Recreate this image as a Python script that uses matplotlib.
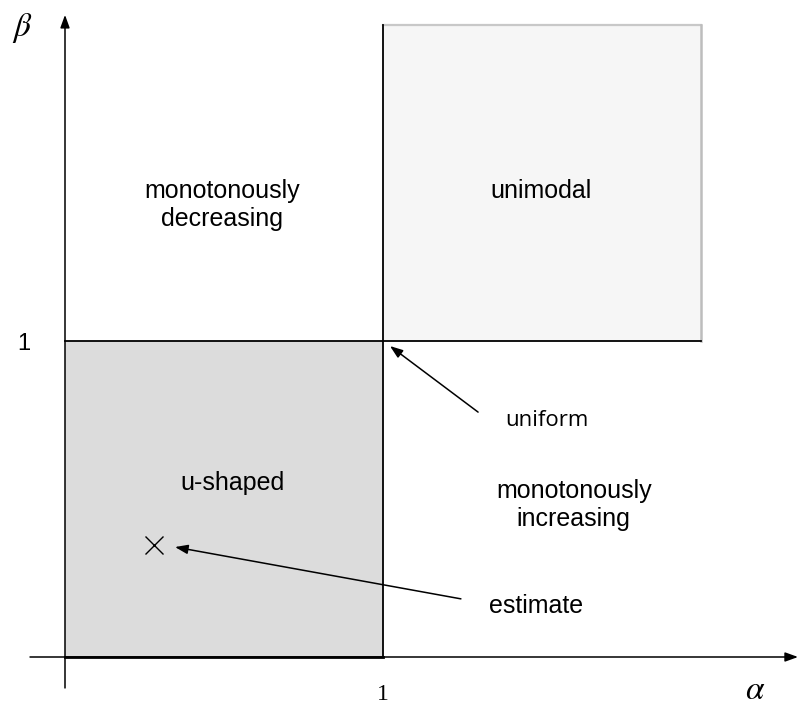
import matplotlib
matplotlib.use('Agg')
import matplotlib.pyplot as plt
from matplotlib.patches import Rectangle

plt.rcParams['mathtext.fontset'] = 'stix'

# Parameterraum der Beta-Verteilung: Grenzen der Regionen
limite = 1.0          # alpha = 1 bzw. beta = 1
topo = 2.0            # obere Grenze der gezeichneten Regionen
estimativa_alpha = 0.28
estimativa_beta = 0.354
regioes = ['monotonously\ndecreasing', 'unimodal', 'u-shaped', 'monotonously\nincreasing']
setas = ['uniform', 'estimate']

fig = plt.figure(figsize=(8, 7.07), dpi=100)
ax = fig.add_axes([0, 0, 1, 1])
ax.set_xlim(-65 / 318, 735 / 318)
ax.set_ylim(-50 / 316, 657 / 316)
ax.axis('off')

# caixas
ax.add_patch(Rectangle((0, 0), limite, limite, facecolor='#dcdcdc', edgecolor='none', zorder=1))
ax.add_patch(Rectangle((limite, limite), topo - limite, topo - limite,
                       facecolor='#f6f6f6', edgecolor='none', zorder=1))
ax.plot([limite, topo], [topo, topo], color='#c8c8c8', lw=1.6, zorder=2)
ax.plot([topo, topo], [limite, topo], color='#bdbdbd', lw=1.8, zorder=2)
ax.plot([0, topo], [limite, limite], color='black', lw=1.3, zorder=3)
ax.plot([limite, limite], [0, topo], color='black', lw=1.3, zorder=3)
ax.plot([0, limite], [0, 0], color='black', lw=2.0, zorder=3)

# eixos com setas
seta_eixo = dict(arrowstyle='-|>,head_length=0.55,head_width=0.2', lw=1.1, color='black',
                 shrinkA=0, shrinkB=0, mutation_scale=14)
ax.annotate('', xy=(2.305, 0), xytext=(-0.11, 0), arrowprops=seta_eixo, zorder=4)
ax.annotate('', xy=(0, 2.032), xytext=(0, -0.098), arrowprops=seta_eixo, zorder=4)

ax.text(-0.135, 1.99, r'$\beta$', fontsize=24, ha='center', va='center')
ax.text(2.17, -0.104, r'$\alpha$', fontsize=24, ha='center', va='center')
ax.text(limite, -0.12, '1', fontsize=17, family='Liberation Serif', ha='center', va='center')
ax.text(-0.13, limite - 0.01, '1', fontsize=17, family='Liberation Sans', ha='center', va='center')

# nomes das regioes
fonte = dict(fontsize=18, family='Liberation Sans', ha='center', va='center')
ax.text(0.494, 1.43, regioes[0], **fonte)
ax.text(1.497, 1.475, regioes[1], **fonte)
ax.text(0.528, 0.55, regioes[2], **fonte)
ax.text(1.60, 0.48, regioes[3], **fonte)

# estimativa
ax.plot(estimativa_alpha, estimativa_beta, marker='x', color='black', ms=13, mew=1.0, zorder=5)

seta = dict(arrowstyle='-|>,head_length=0.55,head_width=0.2', lw=1.1, color='black',
            shrinkA=0, shrinkB=0, mutation_scale=14)
ax.annotate('', xy=(1.022, 0.984), xytext=(1.299, 0.775), arrowprops=seta, zorder=5)
ax.annotate('', xy=(0.346, 0.348), xytext=(1.245, 0.184), arrowprops=seta, zorder=5)
ax.text(1.516, 0.75, setas[0], fontsize=16, family='Open Sans', ha='center', va='center')
ax.text(1.481, 0.16, setas[1], fontsize=18, family='Liberation Sans', ha='center', va='center')

plt.savefig('out.png', dpi=100)
